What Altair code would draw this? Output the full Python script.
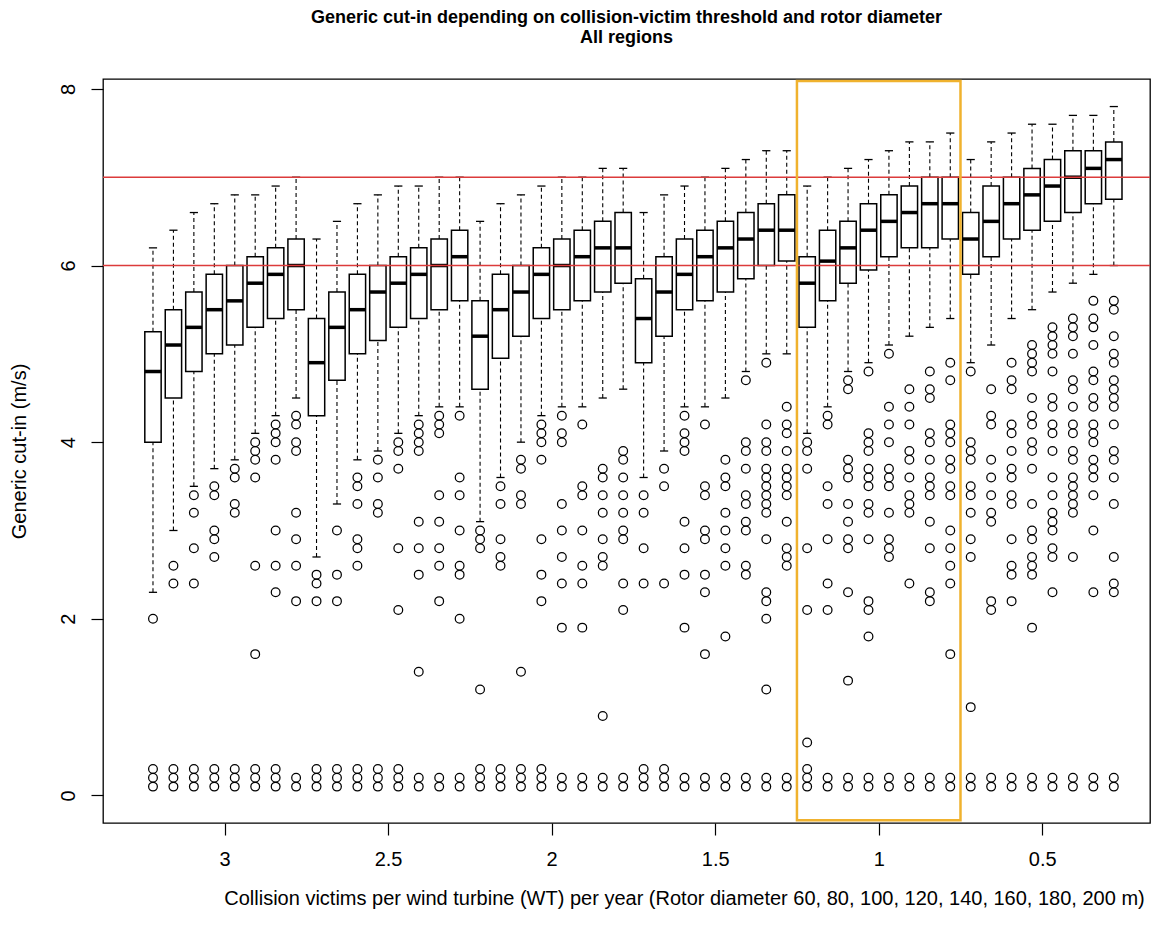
import altair as alt
import pandas as pd

# ---------------- data ----------------
thresholds = ["3", "2.5", "2", "1.5", "1", "0.5"]          # collision victims per WT per year
diameters = [60, 80, 100, 120, 140, 160, 180, 200]          # rotor diameter (m), within each threshold

lower_whisker = [2.3, 3.0, 3.5, 3.7, 3.8, 4.1, 4.3, 4.5,
                 2.7, 3.3, 3.8, 3.9, 4.1, 4.3, 4.4, 4.4,
                 3.1, 3.6, 4.0, 4.3, 4.4, 4.4, 4.5, 4.6,
                 3.6, 3.9, 4.4, 4.4, 4.5, 4.8, 5.0, 5.0,
                 4.1, 4.4, 4.8, 4.9, 5.1, 5.2, 5.3, 5.4,
                 4.9, 5.1, 5.4, 5.5, 5.7, 5.8, 5.9, 6.0]
q1 = [4.0, 4.5, 4.8, 5.0, 5.1, 5.3, 5.4, 5.5,
      4.3, 4.7, 5.0, 5.15, 5.3, 5.4, 5.5, 5.6,
      4.6, 4.95, 5.2, 5.4, 5.5, 5.6, 5.7, 5.8,
      4.9, 5.2, 5.5, 5.6, 5.7, 5.85, 6.0, 6.05,
      5.3, 5.6, 5.8, 5.95, 6.1, 6.2, 6.2, 6.3,
      5.9, 6.1, 6.3, 6.4, 6.5, 6.6, 6.7, 6.75]
median = [4.8, 5.1, 5.3, 5.5, 5.6, 5.8, 5.9, 6.0,
          4.9, 5.3, 5.5, 5.7, 5.8, 5.9, 6.0, 6.1,
          5.2, 5.5, 5.7, 5.9, 6.0, 6.1, 6.2, 6.2,
          5.4, 5.7, 5.9, 6.1, 6.2, 6.3, 6.4, 6.4,
          5.8, 6.05, 6.2, 6.4, 6.5, 6.6, 6.7, 6.7,
          6.3, 6.5, 6.7, 6.8, 6.9, 7.0, 7.1, 7.2]
q3 = [5.25, 5.5, 5.7, 5.9, 6.0, 6.1, 6.2, 6.3,
      5.4, 5.7, 5.9, 6.0, 6.1, 6.2, 6.3, 6.4,
      5.6, 5.9, 6.0, 6.2, 6.3, 6.4, 6.5, 6.6,
      5.85, 6.1, 6.3, 6.4, 6.5, 6.6, 6.7, 6.8,
      6.1, 6.4, 6.5, 6.7, 6.8, 6.9, 7.0, 7.0,
      6.6, 6.9, 7.0, 7.1, 7.2, 7.3, 7.3, 7.4]
upper_whisker = [6.2, 6.4, 6.6, 6.7, 6.8, 6.8, 6.9, 7.0,
                 6.3, 6.5, 6.7, 6.8, 6.9, 6.9, 7.0, 7.0,
                 6.5, 6.7, 6.8, 6.9, 7.0, 7.0, 7.1, 7.1,
                 6.6, 6.8, 6.9, 7.0, 7.1, 7.2, 7.3, 7.3,
                 6.9, 7.0, 7.1, 7.2, 7.3, 7.4, 7.4, 7.5,
                 7.2, 7.4, 7.5, 7.6, 7.6, 7.7, 7.7, 7.8]
outliers = [
    [2.0, 0.3, 0.2, 0.1],
    [2.6, 2.4, 0.3, 0.2, 0.1],
    [3.4, 3.2, 2.8, 2.4, 0.3, 0.2, 0.1],
    [3.5, 3.4, 3.0, 2.9, 2.7, 0.3, 0.2, 0.1],
    [3.7, 3.6, 3.3, 3.2, 0.3, 0.2, 0.1],
    [4.0, 3.9, 3.8, 3.6, 2.6, 1.6, 0.3, 0.2, 0.1],
    [4.2, 4.1, 4.0, 3.8, 3.0, 2.6, 2.3, 0.3, 0.2, 0.1],
    [4.3, 4.2, 4.0, 3.9, 3.2, 2.9, 2.6, 2.2, 0.2, 0.1],
    [2.5, 2.4, 2.2, 0.3, 0.2, 0.1],
    [3.0, 2.5, 2.2, 0.3, 0.2, 0.1],
    [3.6, 3.5, 3.3, 2.9, 2.8, 2.6, 0.3, 0.2, 0.1],
    [3.8, 3.6, 3.3, 3.2, 0.3, 0.2, 0.1],
    [4.0, 3.9, 3.7, 2.8, 2.1, 0.3, 0.2, 0.1],
    [4.2, 4.1, 4.0, 3.9, 3.1, 2.8, 2.5, 1.4, 0.2, 0.1],
    [4.3, 4.2, 4.1, 3.4, 3.1, 2.8, 2.6, 2.2, 0.2, 0.1],
    [4.3, 3.6, 3.4, 3.0, 2.6, 2.5, 2.0, 0.2, 0.1],
    [3.0, 2.9, 2.8, 1.2, 0.3, 0.2, 0.1],
    [3.5, 3.3, 2.9, 2.7, 2.6, 0.3, 0.2, 0.1],
    [3.8, 3.7, 3.4, 3.3, 1.4, 0.3, 0.2, 0.1],
    [4.2, 4.1, 4.0, 3.8, 2.9, 2.5, 2.2, 0.3, 0.2, 0.1],
    [4.3, 4.1, 4.0, 3.3, 3.0, 2.7, 2.4, 1.9, 0.2, 0.1],
    [4.2, 3.5, 3.4, 3.0, 2.6, 2.4, 1.9, 0.2, 0.1],
    [3.7, 3.6, 3.4, 3.2, 2.9, 2.7, 2.6, 0.9, 0.2, 0.1],
    [3.9, 3.8, 3.6, 3.4, 3.2, 3.0, 2.9, 2.4, 2.1, 0.2, 0.1],
    [3.4, 3.2, 2.8, 2.4, 0.3, 0.2, 0.1],
    [3.7, 3.5, 2.4, 0.3, 0.2, 0.1],
    [4.3, 4.1, 4.0, 3.9, 3.1, 2.8, 2.5, 1.9, 0.2, 0.1],
    [4.2, 3.5, 3.4, 3.0, 2.9, 2.5, 2.3, 1.6, 0.2, 0.1],
    [3.8, 3.6, 3.5, 3.2, 3.0, 2.8, 2.6, 1.8, 0.2, 0.1],
    [4.7, 4.0, 3.9, 3.7, 3.4, 3.3, 3.1, 3.0, 2.6, 2.5, 0.2, 0.1],
    [4.9, 4.2, 4.0, 3.9, 3.7, 3.6, 3.5, 3.4, 3.3, 3.2, 2.9, 2.3, 2.2, 2.0, 1.2, 0.2, 0.1],
    [4.4, 4.2, 4.1, 3.9, 3.7, 3.6, 3.5, 3.4, 3.1, 2.8, 2.7, 2.6, 0.2, 0.1],
    [4.0, 3.9, 3.7, 2.8, 2.1, 0.6, 0.3, 0.2, 0.1],
    [4.3, 4.2, 3.5, 3.3, 2.9, 2.4, 2.1, 0.2, 0.1],
    [4.7, 4.6, 3.8, 3.7, 3.6, 3.3, 3.1, 2.9, 2.8, 2.3, 1.3, 0.2, 0.1],
    [4.8, 4.1, 4.0, 3.9, 3.7, 3.6, 3.5, 3.3, 3.2, 2.9, 2.2, 2.1, 1.8, 0.2, 0.1],
    [5.0, 4.4, 4.2, 4.0, 3.7, 3.6, 3.5, 3.2, 2.9, 2.8, 2.7, 0.2, 0.1],
    [4.6, 4.4, 4.2, 3.9, 3.8, 3.6, 3.4, 3.3, 3.2, 2.4, 0.2, 0.1],
    [4.8, 4.6, 4.5, 4.1, 4.0, 3.8, 3.6, 3.5, 3.4, 3.1, 2.8, 2.3, 2.2, 0.2, 0.1],
    [4.9, 4.7, 4.2, 4.1, 4.0, 3.8, 3.7, 3.5, 3.4, 3.0, 2.8, 2.6, 2.4, 1.6, 0.2, 0.1],
    [4.8, 4.0, 3.9, 3.8, 3.5, 3.4, 3.2, 2.9, 2.7, 1.0, 0.2, 0.1],
    [4.6, 4.3, 4.2, 3.8, 3.6, 3.4, 3.2, 3.1, 2.2, 2.1, 0.2, 0.1],
    [4.9, 4.7, 4.6, 4.2, 4.1, 3.9, 3.7, 3.6, 3.4, 3.3, 2.9, 2.6, 2.5, 2.2, 0.2, 0.1],
    [5.1, 5.0, 4.9, 4.8, 4.5, 4.3, 4.2, 4.0, 3.9, 3.7, 3.3, 3.0, 2.9, 2.7, 2.6, 2.5, 1.9, 0.2, 0.1],
    [5.3, 5.2, 5.1, 5.0, 4.8, 4.5, 4.4, 4.2, 4.1, 3.9, 3.6, 3.4, 3.2, 3.1, 3.0, 2.8, 2.7, 2.3, 0.2, 0.1],
    [5.4, 5.3, 5.2, 5.0, 4.7, 4.6, 4.4, 4.2, 4.1, 3.9, 3.8, 3.6, 3.5, 3.4, 3.3, 3.2, 2.7, 0.2, 0.1],
    [5.6, 5.4, 5.3, 5.1, 4.8, 4.7, 4.5, 4.4, 4.2, 4.1, 4.0, 3.8, 3.7, 3.6, 3.4, 3.0, 2.3, 0.2, 0.1],
    [5.6, 5.5, 5.2, 5.0, 4.9, 4.7, 4.6, 4.5, 4.4, 4.2, 3.9, 3.8, 3.6, 3.3, 2.7, 2.4, 2.3, 0.2, 0.1],
]
reference_lines = [6, 7]
highlight_threshold = "1"
highlight_y = [-0.28, 8.09]

title_lines = ["Generic cut-in depending on collision-victim threshold and rotor diameter", "All regions"]
x_title = "Collision victims per wind turbine (WT) per year (Rotor diameter 60, 80, 100, 120, 140, 160, 180, 200 m)"
y_title = "Generic cut-in (m/s)"

# ---------------- tables ----------------
n_d = len(diameters)
BOXW = 0.4    # half box width (boxwex 0.8)
CAPW = 0.2    # half staple width
rows = []
for gi, t in enumerate(thresholds):
    for di, d in enumerate(diameters):
        i = gi * n_d + di
        pos = i + 1
        rows.append(dict(pos=pos, left=pos - BOXW, right=pos + BOXW,
                         capl=pos - CAPW, capr=pos + CAPW,
                         lo=lower_whisker[i], q1=q1[i], med=median[i],
                         q3=q3[i], hi=upper_whisker[i],
                         threshold=t, diameter=d))
box_df = pd.DataFrame(rows)
out_df = pd.DataFrame([{"pos": i + 1, "value": v}
                       for i, vals in enumerate(outliers) for v in vals])
ref_df = pd.DataFrame({"y": reference_lines})
hg = thresholds.index(highlight_threshold)
hl_df = pd.DataFrame([{"x1": hg * n_d + 0.5, "x2": (hg + 1) * n_d + 0.5,
                       "y1": highlight_y[0], "y2": highlight_y[1]}])

FONT = "Liberation Sans, Arial, Helvetica, sans-serif"
tick_vals = [gi * n_d + (n_d + 1) / 2 for gi in range(len(thresholds))]
label_expr = "[" + ",".join("'%s'" % t for t in thresholds) + "][floor(datum.value / %d)]" % n_d

xscale = alt.Scale(domain=[-1.445, 49.77], nice=False, zero=False)
yscale = alt.Scale(domain=[-0.312, 8.112], nice=False, zero=False)

x_axis = alt.Axis(values=tick_vals, labelExpr=label_expr, title=x_title,
                  grid=False, domain=False, ticks=True, tickSize=12, tickWidth=1.2,
                  tickColor="black", labelColor="black", labelFont=FONT, labelFontSize=20,
                  labelPadding=14, labelFlush=False, labelOverlap=False,
                  titleFont=FONT, titleFontSize=20, titleFontWeight="normal", titleColor="black",
                  titleX=581, titleY=81, titleAlign="center", titleBaseline="alphabetic")
y_axis = alt.Axis(values=[0, 2, 4, 6, 8], title=y_title, format="d",
                  grid=False, domain=False, ticks=True, tickSize=12, tickWidth=1.2,
                  tickColor="black", labelColor="black", labelFont=FONT, labelFontSize=20,
                  labelAngle=270, labelAlign="center", labelBaseline="alphabetic",
                  labelPadding=17, labelFlush=False, labelOverlap=False,
                  titleFont=FONT, titleFontSize=20, titleFontWeight="normal", titleColor="black",
                  titleAngle=270, titleX=-78, titleY=372, titleAlign="center",
                  titleBaseline="alphabetic")

base = alt.Chart(box_df)

upper_w = base.mark_rule(color="black", strokeWidth=1.1, strokeDash=[4, 3]).encode(
    x=alt.X("pos:Q", scale=xscale, axis=x_axis),
    y=alt.Y("q3:Q", scale=yscale, axis=y_axis),
    y2="hi:Q")
lower_w = base.mark_rule(color="black", strokeWidth=1.1, strokeDash=[4, 3]).encode(
    x="pos:Q", y="lo:Q", y2="q1:Q")
cap_hi = base.mark_rule(color="black", strokeWidth=1.3).encode(
    x="capl:Q", x2="capr:Q", y="hi:Q")
cap_lo = base.mark_rule(color="black", strokeWidth=1.3).encode(
    x="capl:Q", x2="capr:Q", y="lo:Q")
boxes = base.mark_rect(fill="white", stroke="black", strokeWidth=1.5).encode(
    x="left:Q", x2="right:Q", y="q1:Q", y2="q3:Q")
medians = base.mark_rule(color="black", strokeWidth=3.5).encode(
    x="left:Q", x2="right:Q", y="med:Q")
points = alt.Chart(out_df).mark_point(shape="circle", filled=False, size=76,
                                      color="black", strokeWidth=1.25, opacity=1).encode(
    x="pos:Q", y="value:Q")
refs = alt.Chart(ref_df).mark_rule(color="#dc3b3b", strokeWidth=1.6).encode(y="y:Q")
highlight = alt.Chart(hl_df).mark_rect(fill="transparent", stroke="#F0B22E",
                                       strokeWidth=2.5).encode(
    x="x1:Q", x2="x2:Q", y="y1:Q", y2="y2:Q")

chart = alt.layer(upper_w, lower_w, cap_hi, cap_lo, boxes, medians, points, refs, highlight).properties(
    width=1047, height=744,
    title=alt.TitleParams(text=title_lines, font=FONT, fontSize=18, fontWeight="bold",
                          color="black", anchor="middle", frame="group", baseline="bottom",
                          lineHeight=20, offset=14),
    autosize=alt.AutoSizeParams(type="none"),
    padding={"left": 103, "top": 79, "right": 14, "bottom": 102},
    background="white",
).configure_view(stroke="black", strokeWidth=1.3)

chart.save("out.html", embed_options={"renderer": "svg", "actions": False})
